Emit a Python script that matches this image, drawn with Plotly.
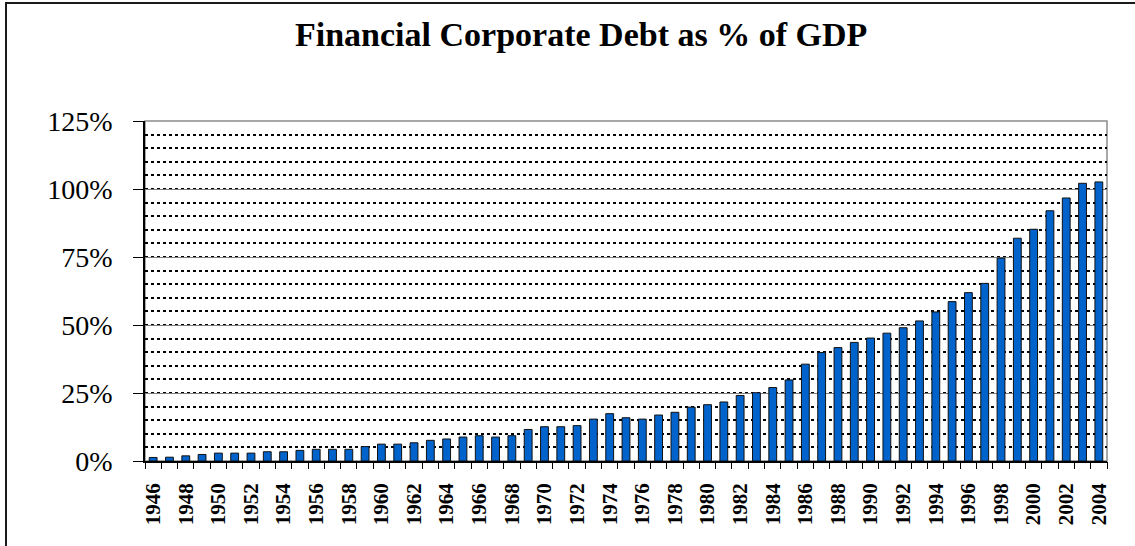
import plotly.graph_objects as go

# Financial-sector corporate debt relative to GDP, 1946-2004 (percent)
years = list(range(1946, 2005))
debt_pct = [
    1.3, 1.4, 1.9, 2.4, 2.9, 2.9, 2.9, 3.4, 3.4, 3.9,
    4.3, 4.3, 4.3, 5.3, 6.2, 6.2, 6.7, 7.6, 8.1, 8.8,
    9.3, 8.8, 9.3, 11.6, 12.6, 12.6, 13.0, 15.4, 17.4, 15.9,
    15.4, 16.9, 17.9, 19.8, 20.7, 21.7, 24.1, 25.1, 27.0, 29.8,
    35.6, 39.9, 41.7, 43.6, 45.2, 47.0, 49.0, 51.5, 54.8, 58.6,
    61.9, 65.3, 74.6, 81.9, 85.2, 92.0, 96.7, 102.1, 102.6,
]
label_years = [y for y in years if y % 2 == 0]
y_ticks = [0, 25, 50, 75, 100, 125]
y_tick_text = ["0%", "25%", "50%", "75%", "100%", "125%"]
title_text = "Financial Corporate Debt as % of GDP"

W, H = 1135, 546
L, R, T, B = 145, 28, 121, 85
PW, PH = W - L - R, H - T - B

serif = "Liberation Serif"

fig = go.Figure()
fig.add_trace(go.Bar(
    x=years, y=debt_pct,
    marker=dict(color="#0063CC", line=dict(color="#111111", width=1)),
    width=0.48,
    hoverinfo="x+y",
))
# invisible trace carrying the boundary tick marks on the overlay axis
fig.add_trace(go.Scatter(x=[years[0], years[-1]], y=[0, 0], xaxis="x2",
                         mode="markers", marker=dict(opacity=0), hoverinfo="skip",
                         showlegend=False))

xr = [years[0] - 0.5, years[-1] + 0.5]

fig.update_layout(
    width=W, height=H,
    margin=dict(l=L, r=R, t=T, b=B),
    paper_bgcolor="white", plot_bgcolor="white",
    showlegend=False,
    xaxis=dict(
        range=xr, tickmode="array", tickvals=label_years,
        ticktext=[f"<b>{y}</b>" for y in label_years],
        tickangle=-90, ticks="", showgrid=False, zeroline=False,
        showline=True, linecolor="black", linewidth=1.5,
        tickfont=dict(family=serif, size=21, color="black"),
        ticklabelstandoff=12,
    ),
    xaxis2=dict(
        range=xr, overlaying="x", anchor="y", side="bottom",
        tickmode="array", tickvals=[y - 0.5 for y in years] + [years[-1] + 0.5],
        showticklabels=False, ticks="outside", ticklen=7, tickcolor="black",
        tickwidth=1, showgrid=False, zeroline=False, showline=False,
    ),
    yaxis=dict(
        range=[0, 125], tickmode="array", tickvals=y_ticks, ticktext=y_tick_text,
        ticks="outside", ticklen=10, tickcolor="black", tickwidth=1,
        showline=True, linecolor="black", linewidth=1.5,
        showgrid=True, gridcolor="#7f7f7f", gridwidth=1,
        zeroline=False,
        minor=dict(dtick=5, tick0=0, showgrid=True, gridcolor="black",
                   gridwidth=2, griddash="3px,3px", ticks=""),
        tickfont=dict(family=serif, size=28, color="black"),
        ticklabelstandoff=15,
    ),
    shapes=[
        # plot-area frame (top and right edges)
        dict(type="rect", xref="paper", yref="paper", x0=0, x1=1, y0=0, y1=1,
             line=dict(color="#8c8c8c", width=1.5), layer="below"),
        # outer chart border
        dict(type="rect", xref="paper", yref="paper",
             x0=(6 - L) / PW, x1=(W + 10 - L) / PW,
             y0=-(B + 10) / PH, y1=(H - 3 - B) / PH,
             line=dict(color="#1a1a1a", width=2)),
    ],
)

# chart heading
fig.add_annotation(
    text=f"<b>{title_text}</b>", showarrow=False,
    xref="paper", yref="paper",
    x=(581 - L) / PW, y=(H - B - 34) / PH, xanchor="center", yanchor="middle",
    font=dict(family=serif, size=34, color="black"),
)

fig.write_html("out.html")
